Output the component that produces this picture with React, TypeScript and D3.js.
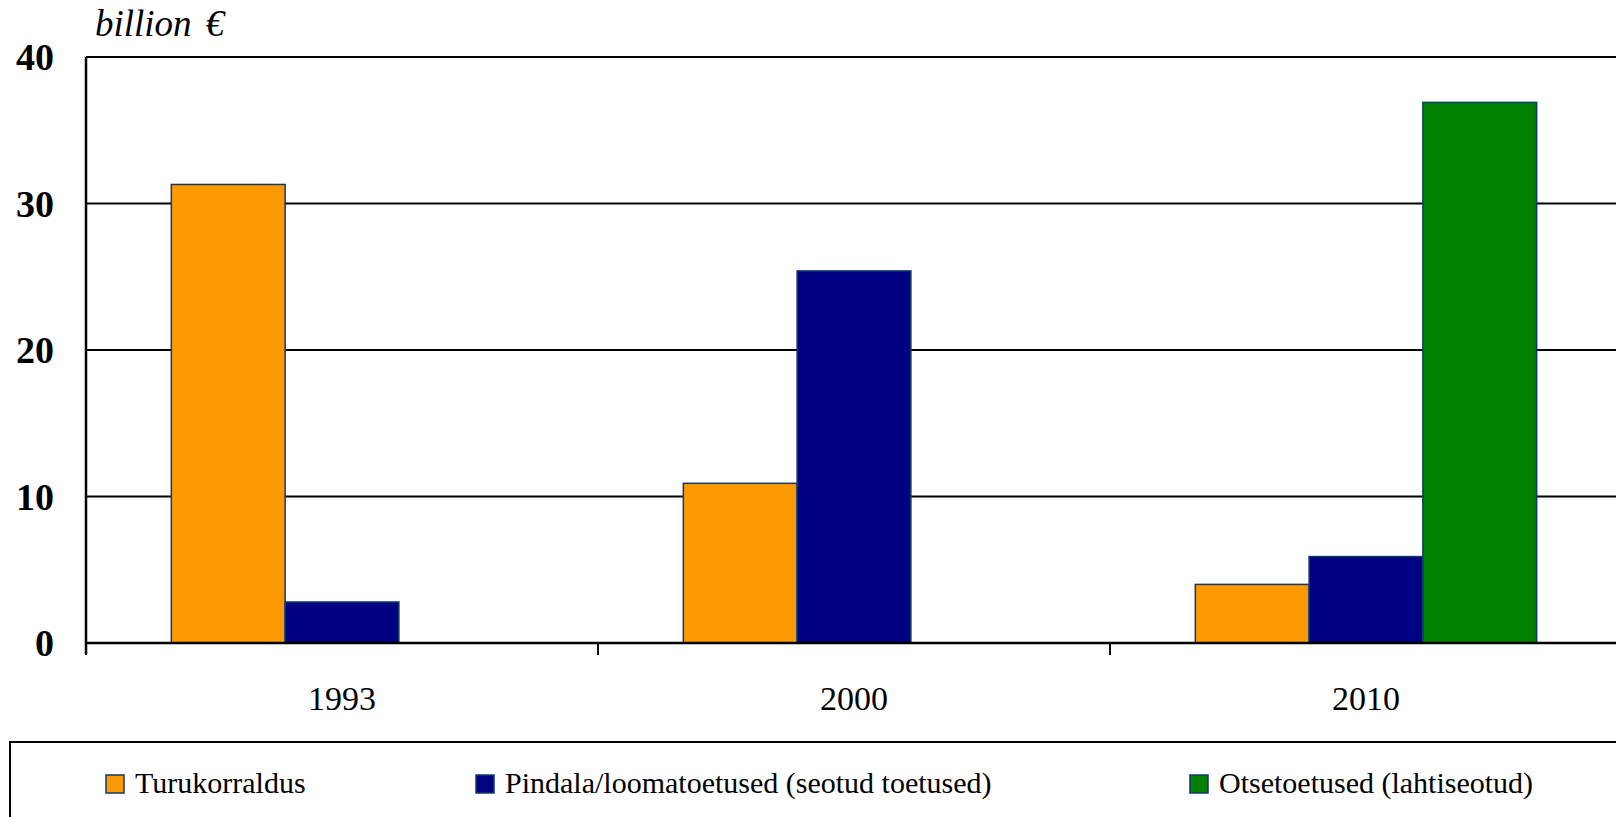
import React from "react";
import * as d3 from "d3";

const categories = ["1993", "2000", "2010"];
const seriesNames = [
  "Turukorraldus",
  "Pindala/loomatoetused (seotud toetused)",
  "Otsetoetused (lahtiseotud)",
];
const turukorraldus = [31.3, 10.9, 4.0];
const pindala = [2.8, 25.4, 5.9];
const otsetoetused = [0, 0, 36.9];
const yTicks = [0, 10, 20, 30, 40];
const colors = ["#FF9900", "#000080", "#008000"];

const W = 1616;
const H = 817;
const left = 86;
const top = 57;
const bottom = 643;
const right = 1622;

export default function App() {
  const series = [turukorraldus, pindala, otsetoetused];
  const x = d3.scaleBand<string>().domain(categories).range([left, right]).paddingInner(0).paddingOuter(0);
  const y = d3.scaleLinear().domain([0, 40]).range([bottom, top]);
  const bw = x.bandwidth();
  // bar width = bw/4.5, outer gap = 0.75 bar each side
  const barW = bw / 4.5;
  const off = barW * 0.75;
  const serif = "'Liberation Serif', 'Times New Roman', serif";
  const legendX = [106, 476, 1190];
  const strokeC = "#0E3A6B";

  return (
    <div style={{ position: "absolute", left: 0, top: 0 }}>
      <svg width={W} height={H} style={{ display: "block", overflow: "hidden" }} fontFamily={serif}>
        <rect x={0} y={0} width={W} height={H} fill="#fff" />
        {yTicks.slice(1).map((t) => (
          <line key={t} x1={left} x2={right} y1={y(t)} y2={y(t)} stroke="#000" strokeWidth={2} />
        ))}
        {categories.map((c, ci) =>
          series.map((s, si) =>
            s[ci] > 0 ? (
              <rect
                key={c + si}
                x={(x(c) as number) + off + si * barW}
                y={y(s[ci])}
                width={barW}
                height={y(0) - y(s[ci])}
                fill={colors[si]}
                stroke={strokeC}
                strokeWidth={1.5}
              />
            ) : null
          )
        )}
        <line x1={left} x2={left} y1={top} y2={bottom + 11} stroke="#000" strokeWidth={2.5} />
        <line x1={left} x2={right} y1={bottom} y2={bottom} stroke="#000" strokeWidth={2.5} />
        {categories.map((c) => (
          <line key={"t" + c} x1={x(c) as number} x2={x(c) as number} y1={bottom} y2={bottom + 12} stroke="#000" strokeWidth={2} />
        ))}
        {yTicks.map((t) => (
          <text key={"y" + t} x={54} y={y(t)} dy="0.35em" textAnchor="end" fontWeight="bold" fontSize={38}>
            {t}
          </text>
        ))}
        {categories.map((c) => (
          <text key={"c" + c} x={(x(c) as number) + bw / 2} y={710} textAnchor="middle" fontSize={34}>
            {c}
          </text>
        ))}
        <text x={95} y={36} fontStyle="italic" fontSize={37}>
          billion<tspan dx={14}>€</tspan>
        </text>
        <rect x={10} y={742} width={1700} height={120} fill="none" stroke="#000" strokeWidth={2} />
        {seriesNames.map((n, i) => (
          <g key={n}>
            <rect x={legendX[i]} y={775} width={18} height={18} fill={colors[i]} stroke={strokeC} strokeWidth={1.5} />
            <text x={legendX[i] + 29} y={793} fontSize={30}>
              {n}
            </text>
          </g>
        ))}
      </svg>
    </div>
  );
}
